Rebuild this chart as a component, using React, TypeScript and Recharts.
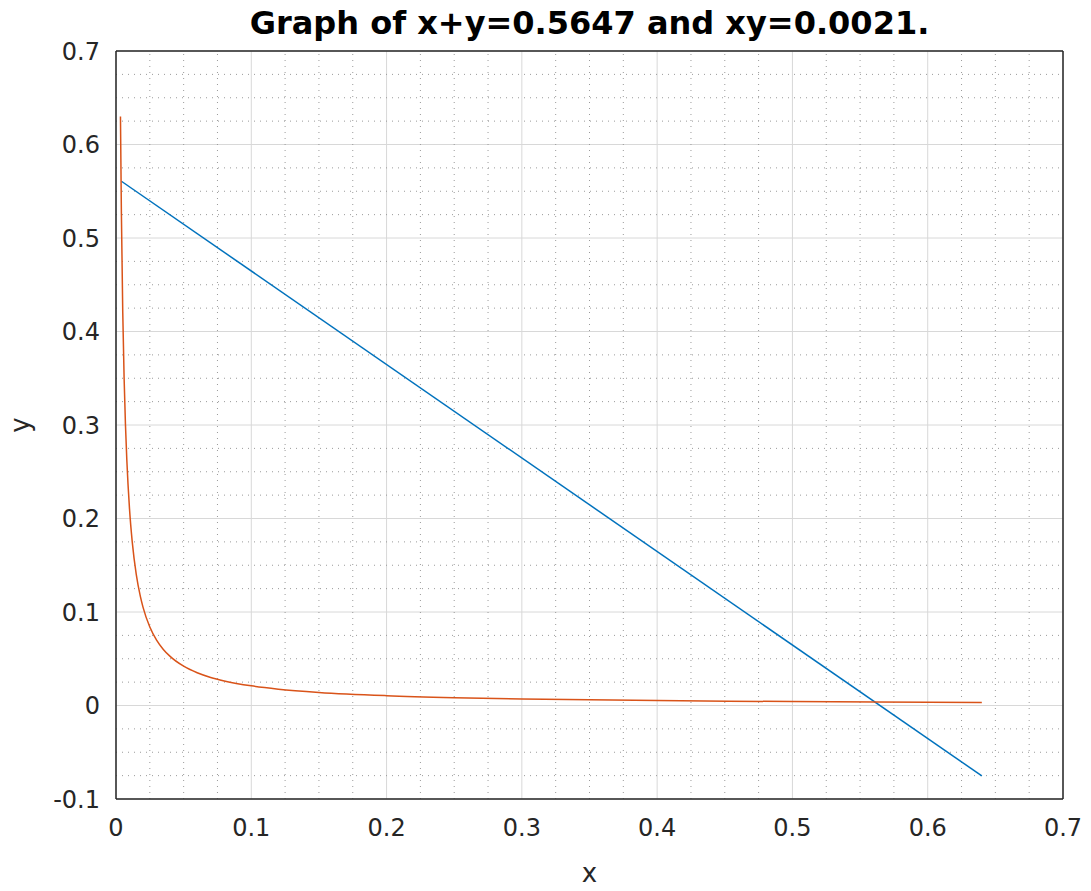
import {
  ComposedChart,
  Line,
  XAxis,
  YAxis,
  CartesianGrid,
  ReferenceLine,
} from "recharts";

// x + y = 0.5647 (blue) at its ends
const lineX = [0.004, 0.64];
const lineY = [0.5607, -0.0753];

// xy = 0.0021 (orange)
const curveX = [0.0033, 0.004, 0.005, 0.006, 0.007, 0.008, 0.01, 0.012, 0.015, 0.018, 0.02, 0.025, 0.03, 0.035, 0.04, 0.05, 0.06, 0.07, 0.08, 0.1, 0.12, 0.15, 0.2, 0.25, 0.3, 0.4, 0.5, 0.64];
const curveY = [0.63, 0.525, 0.42, 0.35, 0.3, 0.2625, 0.21, 0.175, 0.14, 0.1167, 0.105, 0.084, 0.07, 0.06, 0.0525, 0.042, 0.035, 0.03, 0.0263, 0.021, 0.0175, 0.014, 0.0105, 0.0084, 0.007, 0.0053, 0.0042, 0.0033];

const xTicks = [0, 0.1, 0.2, 0.3, 0.4, 0.5, 0.6, 0.7];
const yTicks = [-0.1, 0, 0.1, 0.2, 0.3, 0.4, 0.5, 0.6, 0.7];

const lineData = lineX.map((x, i) => ({ x, y: lineY[i] }));
const curveData = curveX.map((x, i) => ({ x, y: curveY[i] }));

// minor grid every 0.025
const minorX: number[] = [];
for (let i = 1; i < 28; i++) if (i % 4 !== 0) minorX.push(+(i * 0.025).toFixed(3));
const minorY: number[] = [];
for (let i = 1; i < 32; i++) if (i % 4 !== 0) minorY.push(+(-0.1 + i * 0.025).toFixed(3));

const FONT = "'DejaVu Sans', sans-serif";
const W = 1075;
const H = 875;
const M = { top: 43, right: 20, bottom: 0, left: 0 };

export default function App() {
  return (
    <div style={{ position: "relative", width: W, height: H, fontFamily: FONT }}>
      <div
        style={{
          position: "absolute",
          left: 108,
          width: 947,
          top: -4,
          textAlign: "center",
          fontWeight: "bold",
          fontSize: 32,
          color: "#000",
          whiteSpace: "nowrap",
        }}
      >
        Graph of x+y=0.5647 and xy=0.0021.
      </div>
      <div
        style={{
          position: "absolute",
          left: 4,
          top: 402,
          fontSize: 26,
          color: "#262626",
          transform: "rotate(-90deg)",
        }}
      >
        y
      </div>
      <div
        style={{
          position: "absolute",
          left: 108,
          width: 947,
          top: 850,
          textAlign: "center",
          fontSize: 26,
          color: "#262626",
        }}
      >
        x
      </div>
      <ComposedChart width={W} height={H} margin={M}>
        <CartesianGrid stroke="#d8d8d8" strokeWidth={1} />
        {minorX.map((v) => (
          <ReferenceLine key={"mx" + v} x={v} stroke="#9a9a9a" strokeDasharray="1 5" ifOverflow="hidden" />
        ))}
        {minorY.map((v) => (
          <ReferenceLine key={"my" + v} y={v} stroke="#9a9a9a" strokeDasharray="1 5" ifOverflow="hidden" />
        ))}
        <XAxis
          type="number"
          dataKey="x"
          domain={[0, 0.7]}
          ticks={xTicks}
          allowDataOverflow
          height={84}
          tickLine={false}
          tickSize={0}
          tickMargin={20}
          axisLine={{ stroke: "#262626", strokeWidth: 1.5 }}
          tick={{ fill: "#262626", fontSize: 24, fontFamily: FONT }}
        />
        <XAxis
          xAxisId="top"
          orientation="top"
          type="number"
          dataKey="x"
          domain={[0, 0.7]}
          ticks={xTicks}
          allowDataOverflow
          mirror
          tick={false}
          tickSize={8}
          tickLine={{ stroke: "#262626" }}
          axisLine={{ stroke: "#262626", strokeWidth: 1.5 }}
        />
        <YAxis
          type="number"
          dataKey="y"
          domain={[-0.1, 0.7]}
          ticks={yTicks}
          allowDataOverflow
          width={108}
          tickLine={false}
          tickSize={0}
          tickMargin={16}
          axisLine={{ stroke: "#262626", strokeWidth: 1.5 }}
          tick={{ fill: "#262626", fontSize: 24, fontFamily: FONT }}
          tickFormatter={(v: number) => String(+v.toFixed(1))}
        />
        <YAxis
          yAxisId="right"
          orientation="right"
          type="number"
          dataKey="y"
          domain={[-0.1, 0.7]}
          ticks={yTicks}
          allowDataOverflow
          mirror
          tick={false}
          tickSize={8}
          tickLine={{ stroke: "#262626" }}
          axisLine={{ stroke: "#262626", strokeWidth: 1.5 }}
        />
        <Line
          data={lineData}
          dataKey="y"
          type="linear"
          stroke="#0072BD"
          strokeWidth={1.5}
          dot={false}
          isAnimationActive={false}
        />
        <Line
          data={curveData}
          dataKey="y"
          type="monotone"
          stroke="#D95319"
          strokeWidth={1.5}
          dot={false}
          isAnimationActive={false}
        />
      </ComposedChart>
    </div>
  );
}
